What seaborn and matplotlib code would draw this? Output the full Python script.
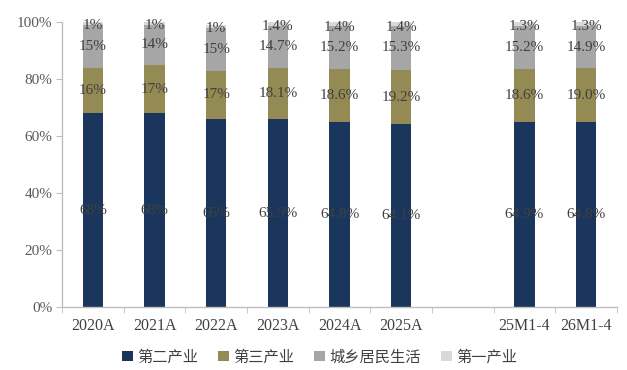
import numpy as np
import pandas as pd
import matplotlib
matplotlib.use('Agg')
import matplotlib.pyplot as plt
from matplotlib.patches import Patch
import seaborn as sns

# data (shares of electricity use, %)
periods = ['2020A', '2021A', '2022A', '2023A', '2024A', '2025A', '25M1-4', '26M1-4']
secondary = [68, 68, 66, 65.9, 64.8, 64.1, 64.9, 64.8]
tertiary = [16, 17, 17, 18.1, 18.6, 19.2, 18.6, 19.0]
residential = [15, 14, 15, 14.7, 15.2, 15.3, 15.2, 14.9]
primary = [1, 1, 1, 1.4, 1.4, 1.4, 1.3, 1.3]
decimals = [0, 0, 0, 1, 1, 1, 1, 1]
series_names = ['第二产业', '第三产业', '城乡居民生活', '第一产业']
colors = ['#1a365d', '#948a54', '#a6a6a6', '#d9d9d9']

order = periods[:6] + [' '] + periods[6:]

sns.set_style('white')
plt.rcParams['font.family'] = ['Liberation Serif', 'Noto Sans CJK SC']

df = pd.DataFrame({'period': periods, 's2': secondary, 's3': tertiary,
                   'res': residential, 's1': primary})
df['c1'] = df['s2']
df['c2'] = df['c1'] + df['s3']
df['c3'] = df['c2'] + df['res']
df['c4'] = df['c3'] + df['s1']

fig = plt.figure(figsize=(6.27, 3.70), dpi=100)
ax = fig.add_axes([0.099, 0.170, 0.885, 0.770])

# draw cumulative layers from the top down so they stack
for col, color in zip(['c4', 'c3', 'c2', 'c1'], colors[::-1]):
    sns.barplot(data=df, x='period', y=col, order=order, color=color,
                width=0.33, saturation=1, linewidth=0, ax=ax)

# value labels in the middle of each segment
pos = {p: order.index(p) for p in periods}
for i, p in enumerate(periods):
    segs = [secondary[i], tertiary[i], residential[i], primary[i]]
    base = 0
    for k, v in enumerate(segs):
        mid = base + v / 2
        if k == 3:
            mid = base - 0.3
        txt = f'{v:.{decimals[i]}f}%'
        ax.text(pos[p], mid, txt, ha='center', va='center', fontsize=11,
                color='#404040')
        base += v

ax.set_ylim(0, 100)
ax.set_xlim(-0.5, len(order) - 0.5)
ax.set_yticks(np.arange(0, 101, 20))
ax.set_yticklabels([f'{t}%' for t in range(0, 101, 20)])
ax.set_xticks(range(len(order)))
ax.set_xticklabels(order)
ax.set_xticks(np.arange(-0.5, len(order)), minor=True)
ax.tick_params(axis='x', which='major', length=0, pad=8, labelsize=11.5,
               labelcolor='#404040')
ax.tick_params(axis='x', which='minor', length=4, color='#bfbfbf',
               direction='out', bottom=True)
ax.tick_params(axis='y', length=4, color='#bfbfbf', direction='out', left=True,
               labelsize=11, labelcolor='#595959', pad=3)
ax.set_xlabel('')
ax.set_ylabel('')
for side in ['top', 'right']:
    ax.spines[side].set_visible(False)
for side in ['left', 'bottom']:
    ax.spines[side].set_color('#bfbfbf')
    ax.spines[side].set_linewidth(1)

handles = [Patch(facecolor=c, edgecolor='none', label=n)
           for c, n in zip(colors, series_names)]
fig.legend(handles=handles, loc='center', bbox_to_anchor=(0.51, 0.035), ncol=4,
           frameon=False, fontsize=11, handlelength=0.7, handleheight=0.7,
           handletextpad=0.3, columnspacing=1.3, labelcolor='#404040')

fig.savefig('out.png', dpi=100)
